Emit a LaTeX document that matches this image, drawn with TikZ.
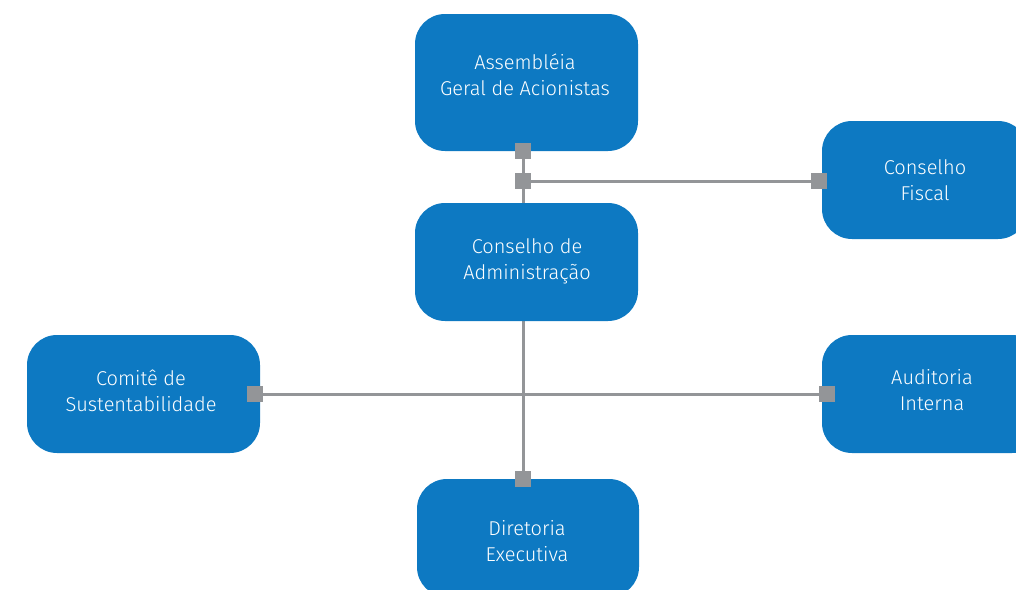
\documentclass[tikz,border=0pt]{standalone}
\usepackage{fontspec}
\setmainfont{Fira Sans}[UprightFont=* Light]
\usetikzlibrary{backgrounds}
\definecolor{boxblue}{HTML}{0D79C2}
\definecolor{linegray}{HTML}{939598}
\tikzset{
  orgbox/.style={fill=boxblue, draw=none, rounded corners=30pt, inner sep=0pt},
  boxtext/.style={text=white, align=center, font=\fontsize{20}{26}\selectfont, inner sep=0pt},
  marker/.style={fill=linegray, draw=none, minimum size=16pt, inner sep=0pt},
  link/.style={draw=linegray, line width=3pt}
}
\begin{document}
\begin{tikzpicture}[x=1pt,y=-1pt]
\useasboundingbox (0,0) rectangle (1016,589);
\clip (0,0) rectangle (1016,589);
\node[orgbox, minimum width=223pt, minimum height=137pt] (A) at (526.5,82.5) {};
\node[orgbox, minimum width=206pt, minimum height=118pt] (CF) at (925,180) {};
\node[orgbox, minimum width=223pt, minimum height=118pt] (CA) at (526.5,262) {};
\node[orgbox, minimum width=233pt, minimum height=118pt] (CS) at (143.5,394) {};
\node[orgbox, minimum width=220pt, minimum height=118pt] (AI) at (932,394) {};
\node[orgbox, minimum width=222pt, minimum height=118pt] (DE) at (528,538) {};
\node[boxtext] (tA) at (525,75) {Assembléia\\Geral de Acionistas};
\node[boxtext] (tCF) at (925,180) {Conselho\\Fiscal};
\node[boxtext] (tCA) at (527,261) {Conselho de\\Administração};
\node[boxtext] (tCS) at (141,391) {Comitê de\\Sustentabilidade};
\node[boxtext] (tAI) at (932,390) {Auditoria\\Interna};
\node[boxtext] (tDE) at (527,541) {Diretoria\\Executiva};
\coordinate (J) at (523,181);
\node[marker] (mA) at (523,151) {};
\node[marker] (mJ) at (J) {};
\node[marker] (mCF) at (819,181) {};
\node[marker] (mCS) at (255,394) {};
\node[marker] (mAI) at (827,394) {};
\node[marker] (mDE) at (523,479) {};
\begin{pgfonlayer}{background}
\draw[link] (mA.center) -- (mDE.center);
\draw[link] (mJ.center) -- (mCF.center);
\draw[link] (mCS.center) -- (mAI.center);
\end{pgfonlayer}
\end{tikzpicture}
\end{document}
